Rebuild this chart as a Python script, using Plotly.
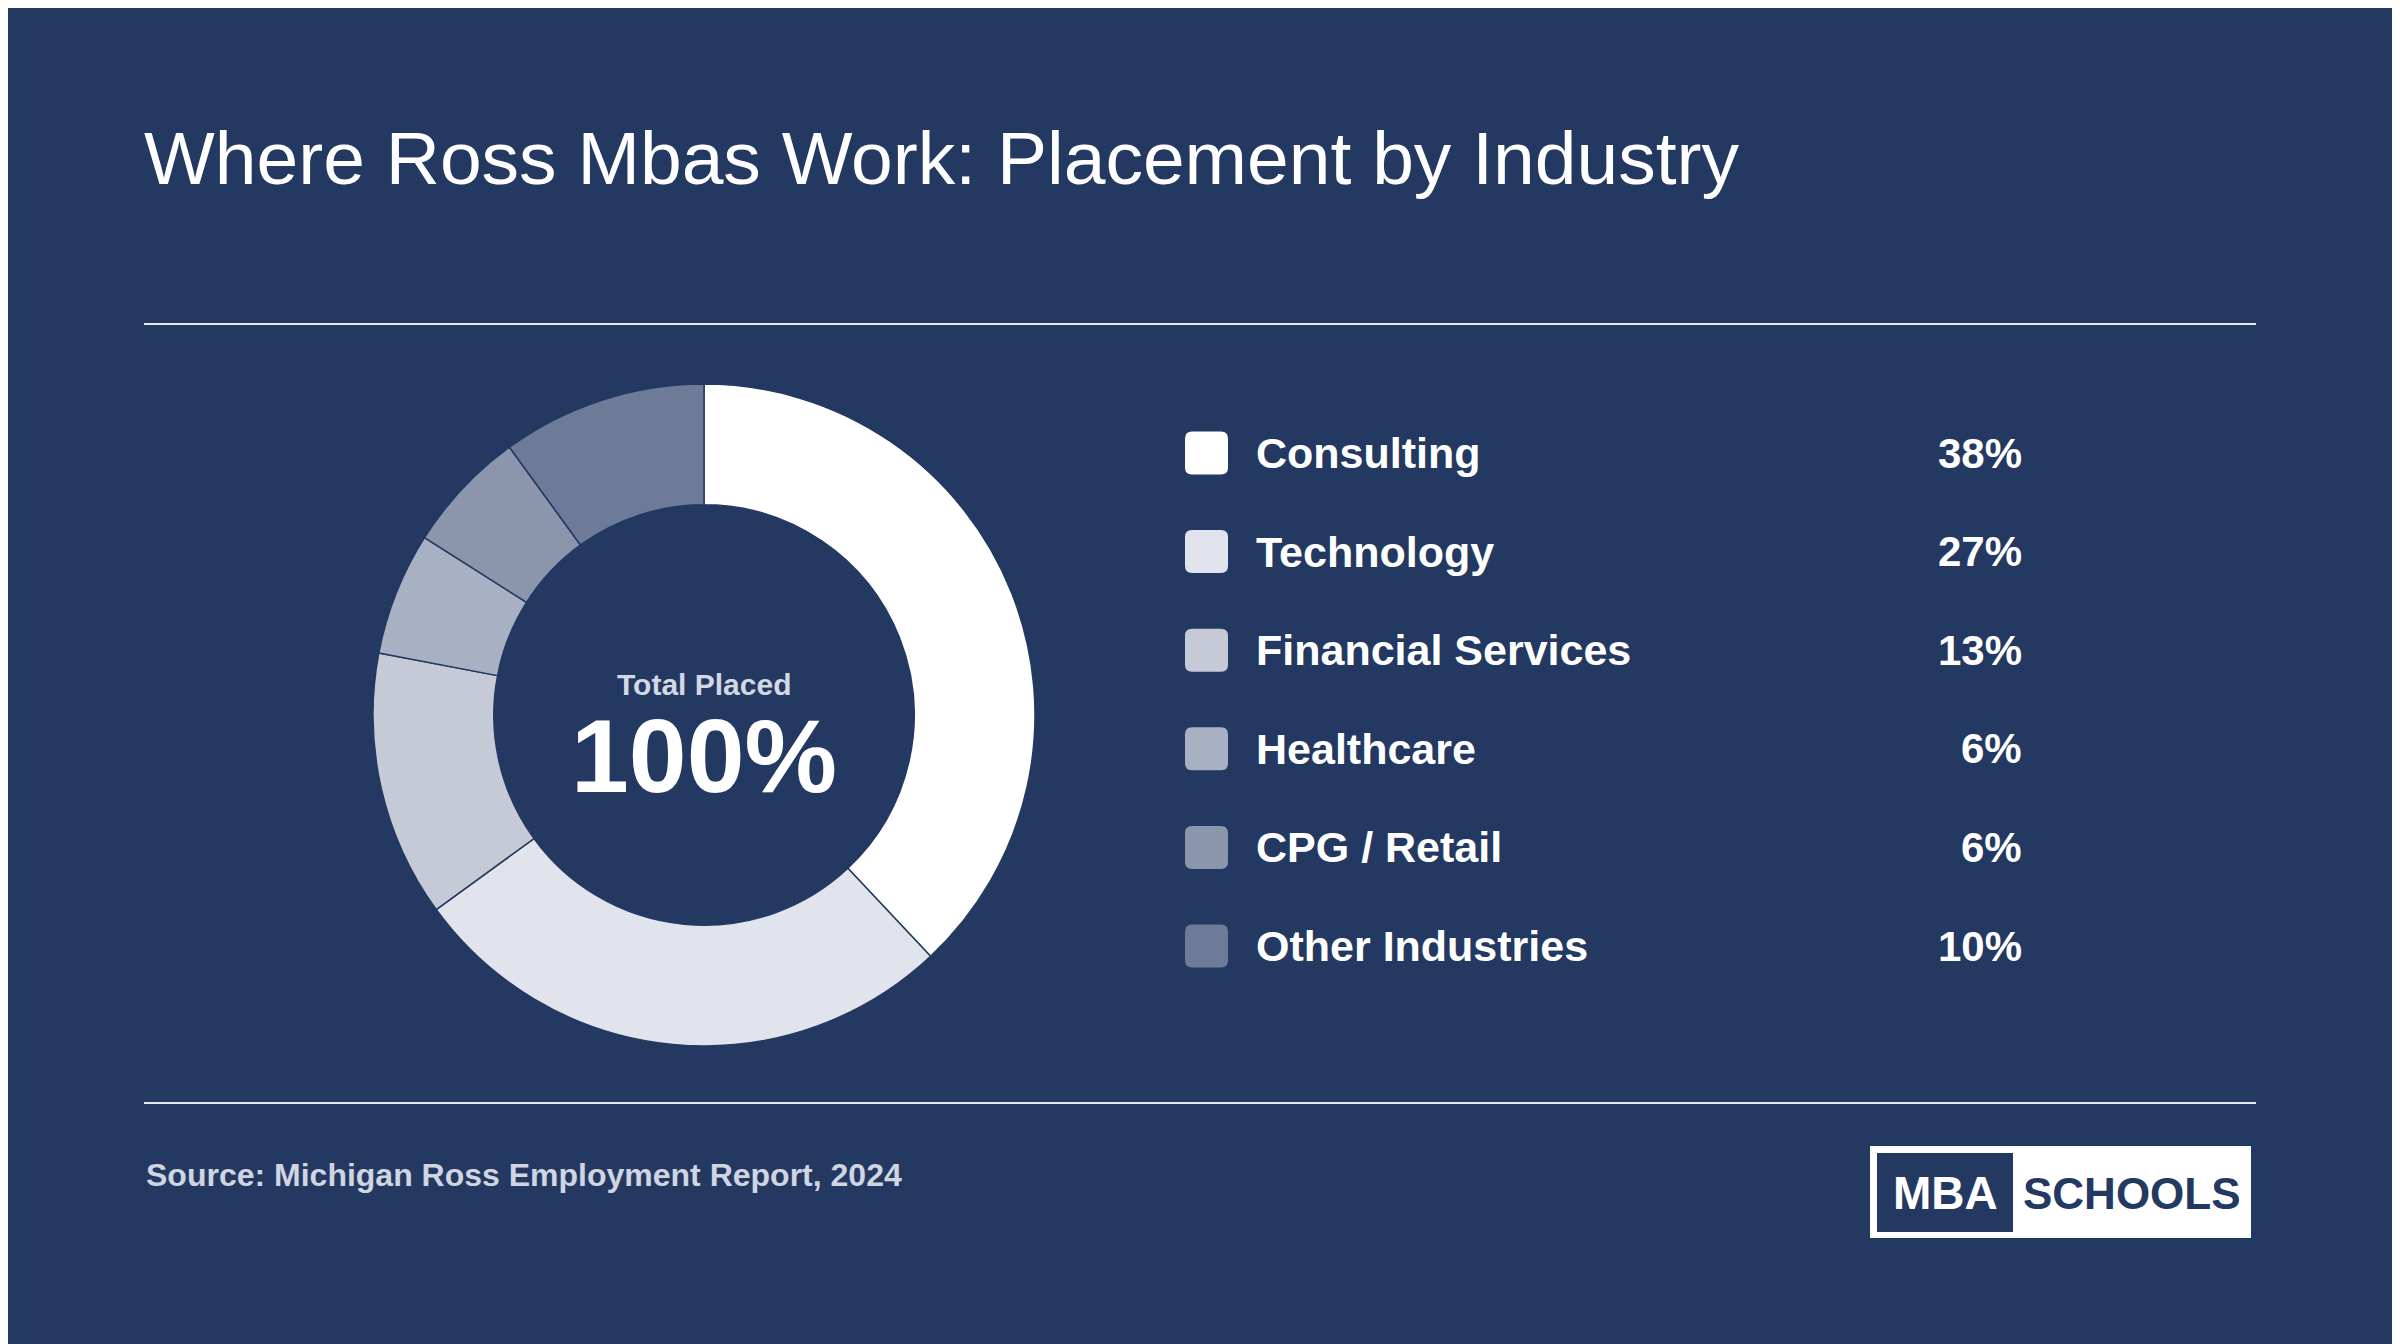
import plotly.graph_objects as go

# Data
industries = ['Consulting', 'Technology', 'Financial Services', 'Healthcare', 'CPG / Retail', 'Other Industries']
shares = [38, 27, 13, 6, 6, 10]
colors = ['#ffffff', '#e1e4ec', '#c5cad6', '#a8b1c3', '#8b96ad', '#6d7b98']

bg = '#243961'
W, H = 2400, 1344
OFF = 8  # page body margin
font = 'Liberation Sans, Arial, sans-serif'


def px(x):
    return (x - OFF) / W


def py(y):
    # pixel row -> paper y
    return 1 - (y - OFF) / H


fig = go.Figure()

cx, cy, r = 704, 715, 331
fig.add_trace(go.Pie(
    labels=industries, values=shares, sort=False, direction='clockwise', rotation=0,
    hole=0.635, marker=dict(colors=colors, line=dict(color=bg, width=1.5)),
    textinfo='none', hoverinfo='label+percent', showlegend=False,
    domain=dict(x=[px(cx - r), px(cx + r)], y=[py(cy + r), py(cy - r)]),
))

shapes = []
annotations = []

# Divider lines
for yy in (324, 1103):
    shapes.append(dict(type='line', xref='paper', yref='paper', x0=px(144), x1=px(2256),
                       y0=py(yy), y1=py(yy), line=dict(color='#e6e9f0', width=2)))

# Legend rows built from the data
row0, step = 453, 98.6
for i, (name, val, col) in enumerate(zip(industries, shares, colors)):
    yc = row0 + i * step
    x0, x1, y0, y1, rr = 1185, 1228, yc - 21.5, yc + 21.5, 7
    path = (f'M{x0 + rr},{y0} L{x1 - rr},{y0} Q{x1},{y0} {x1},{y0 + rr} '
            f'L{x1},{y1 - rr} Q{x1},{y1} {x1 - rr},{y1} L{x0 + rr},{y1} '
            f'Q{x0},{y1} {x0},{y1 - rr} L{x0},{y0 + rr} Q{x0},{y0} {x0 + rr},{y0} Z')
    pts = []
    for seg in path.replace('M', ' M ').replace('L', ' L ').replace('Q', ' Q ').replace('Z', ' Z').split():
        if ',' in seg:
            a, b = seg.split(',')
            pts.append(f'{px(float(a)):.6f},{py(float(b)):.6f}')
        else:
            pts.append(seg)
    shapes.append(dict(type='path', xref='paper', yref='paper', path=' '.join(pts),
                       fillcolor=col, line=dict(width=0)))
    annotations.append(dict(x=px(1254), y=py(yc), xref='paper', yref='paper', text=f'<b>{name}</b>',
                            showarrow=False, xanchor='left', yanchor='middle',
                            font=dict(family=font, size=43, color='#ffffff')))
    annotations.append(dict(x=px(2024), y=py(yc), xref='paper', yref='paper', text=f'<b>{val}%</b>',
                            showarrow=False, xanchor='right', yanchor='middle',
                            font=dict(family=font, size=42, color='#ffffff')))

# Center label
annotations.append(dict(x=px(cx), y=py(684), xref='paper', yref='paper', text='<b>Total Placed</b>',
                        showarrow=False, xanchor='center', yanchor='middle',
                        font=dict(family=font, size=30, color='#d3d8e3')))
annotations.append(dict(x=px(cx), y=py(756), xref='paper', yref='paper', text=f'<b>{sum(shares)}%</b>',
                        showarrow=False, xanchor='center', yanchor='middle',
                        font=dict(family=font, size=104, color='#ffffff')))

# Title
annotations.append(dict(x=px(142), y=py(158), xref='paper', yref='paper',
                        text='Where Ross Mbas Work: Placement by Industry',
                        showarrow=False, xanchor='left', yanchor='middle',
                        font=dict(family=font, size=75, color='#ffffff')))

# Source
annotations.append(dict(x=px(144), y=py(1175), xref='paper', yref='paper',
                        text='<b>Source: Michigan Ross Employment Report, 2024</b>',
                        showarrow=False, xanchor='left', yanchor='middle',
                        font=dict(family=font, size=32, color='#cfd5e1')))

# Logo
shapes.append(dict(type='rect', xref='paper', yref='paper', x0=px(1870), x1=px(2251),
                   y0=py(1238), y1=py(1146), fillcolor='#ffffff', line=dict(width=0)))
shapes.append(dict(type='rect', xref='paper', yref='paper', x0=px(1877), x1=px(2013),
                   y0=py(1232), y1=py(1153), fillcolor=bg, line=dict(width=0)))
annotations.append(dict(x=px(1945), y=py(1193), xref='paper', yref='paper', text='<b>MBA</b>',
                        showarrow=False, xanchor='center', yanchor='middle',
                        font=dict(family=font, size=46, color='#ffffff')))
annotations.append(dict(x=px(2132), y=py(1193), xref='paper', yref='paper', text='<b>SCHOOLS</b>',
                        showarrow=False, xanchor='center', yanchor='middle',
                        font=dict(family=font, size=44, color=bg)))

fig.update_layout(
    width=W, height=H, margin=dict(l=0, r=0, t=0, b=0),
    paper_bgcolor=bg, plot_bgcolor=bg,
    shapes=shapes, annotations=annotations,
)

fig.write_html('out.html')
